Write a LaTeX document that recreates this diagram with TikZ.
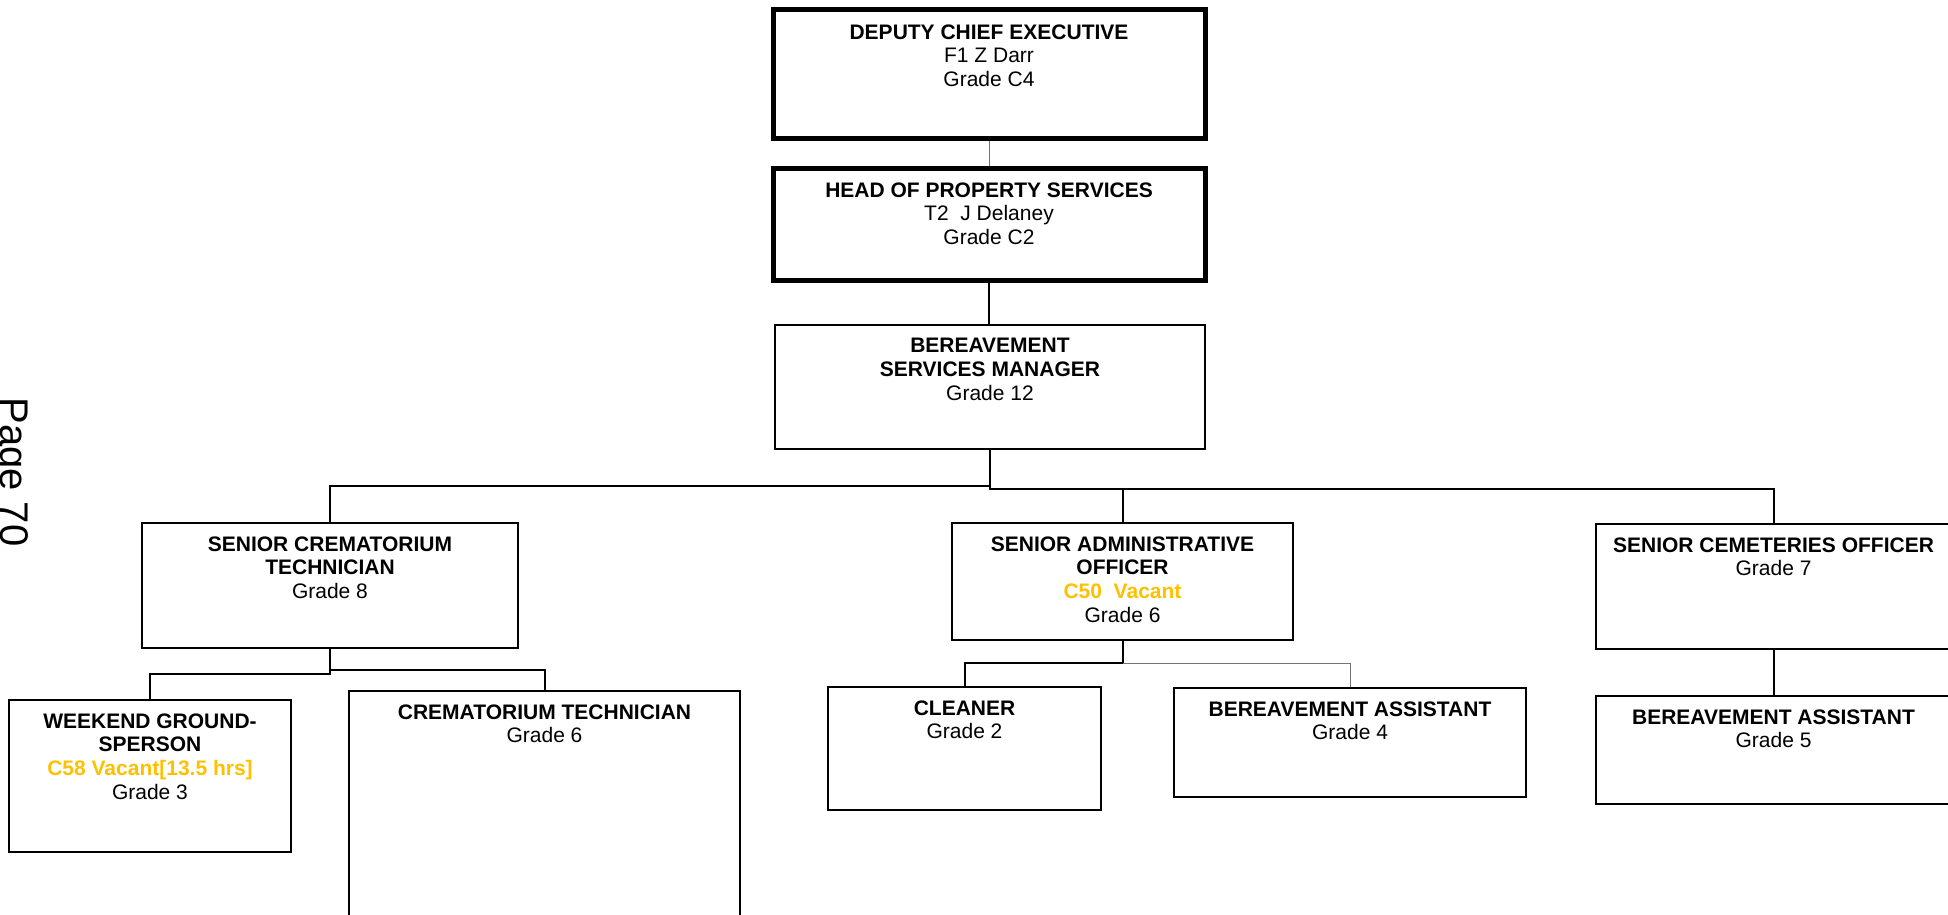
\documentclass[tikz,border=0pt]{standalone}
\usepackage{fontspec}
\setmainfont{Liberation Sans}
\usetikzlibrary{positioning,fit}
\definecolor{vacant}{RGB}{255,192,0}

\tikzset{
  post/.style={draw, rectangle, inner sep=0pt, line width=1pt},
  chief/.style={post, line width=2.5pt},
  posttext/.style={align=center, inner sep=0pt, font=\fontsize{10.5pt}{11.85pt}\selectfont},
  link/.style={line width=1pt},
  faint/.style={line width=0.5pt, black!55},
}
\newcommand{\vac}[1]{{\color{vacant}\bfseries #1}}

\begin{document}
\begin{tikzpicture}[x=0.5pt,y=-0.5pt]
\useasboundingbox (0,0) rectangle (1948,915);

% page mark on the left edge
\node[rotate=-90, anchor=base, inner sep=0pt, font=\fontsize{20pt}{24pt}\selectfont] (page) at (1,472) {Page 70};

% management
\node[chief, fit={(773,10) (1205,139)}] (dce) {};
\node[posttext, below=8.25pt of dce.north] (dce-t) {\textbf{DEPUTY CHIEF EXECUTIVE}\\F1 Z Darr\\Grade C4};
\node[chief, fit={(773,168) (1205,280)}] (hps) {};
\node[posttext, below=8.25pt of hps.north] (hps-t) {\textbf{HEAD OF PROPERTY SERVICES}\\T2~~J Delaney\\Grade C2};
\node[post, fit={(775,325) (1205,449)}] (bsm) {};
\node[posttext, below=7pt of bsm.north] (bsm-t) {\textbf{BEREAVEMENT}\\\textbf{SERVICES MANAGER}\\Grade 12};

% second row
\node[post, fit={(142,523) (518,648)}] (sct) {};
\node[posttext, below=7pt of sct.north] (sct-t) {\textbf{SENIOR CREMATORIUM}\\\textbf{TECHNICIAN}\\Grade 8};
\node[post, fit={(952,523) (1293,640)}] (sao) {};
\node[posttext, below=7pt of sao.north] (sao-t) {\textbf{SENIOR ADMINISTRATIVE}\\\textbf{OFFICER}\\\vac{C50~~Vacant}\\Grade 6};
\node[post, fit={(1596,524) (1951,649)}] (sco) {};
\node[posttext, below=7pt of sco.north] (sco-t) {\textbf{SENIOR CEMETERIES OFFICER}\\Grade 7};

% third row
\node[post, fit={(9,700) (291,852)}] (wg) {};
\node[posttext, below=7pt of wg.north] (wg-t) {\textbf{WEEKEND GROUND-}\\\textbf{SPERSON}\\\vac{C58 Vacant[13.5 hrs]}\\Grade 3};
\node[post, fit={(349,691) (740,940)}] (ct) {};
\node[posttext, below=7pt of ct.north] (ct-t) {\textbf{CREMATORIUM TECHNICIAN}\\Grade 6};
\node[post, fit={(828,687) (1101,810)}] (cln) {};
\node[posttext, below=7pt of cln.north] (cln-t) {\textbf{CLEANER}\\Grade 2};
\node[post, fit={(1174,688) (1526,797)}] (ba4) {};
\node[posttext, below=7pt of ba4.north] (ba4-t) {\textbf{BEREAVEMENT ASSISTANT}\\Grade 4};
\node[post, fit={(1596,696) (1951,804)}] (ba5) {};
\node[posttext, below=7pt of ba5.north] (ba5-t) {\textbf{BEREAVEMENT ASSISTANT}\\Grade 5};

% lines
\draw[faint] (dce.south) -- (dce.south |- hps.north);
\draw[link] (hps.south) -- (hps.south |- bsm.north);
\draw[link] (bsm.south) -- ++(0,36) -| (sct.north);
\draw[link] (bsm.south) -- ++(0,39) -| (sco.north);
\draw[link] (sao.north) -- ++(0,-34);
\draw[link] (sct.south) -- ++(0,25) -| (wg.north);
\draw[link] (sct.south) -- ++(0,21) -| (ct.north);
\draw[link] (sao.south) -- ++(0,22) -| (cln.north);
\draw[faint] (sao.south) ++(0,22) -| (ba4.north);
\draw[link] (sco) -- (ba5);
\end{tikzpicture}
\end{document}
